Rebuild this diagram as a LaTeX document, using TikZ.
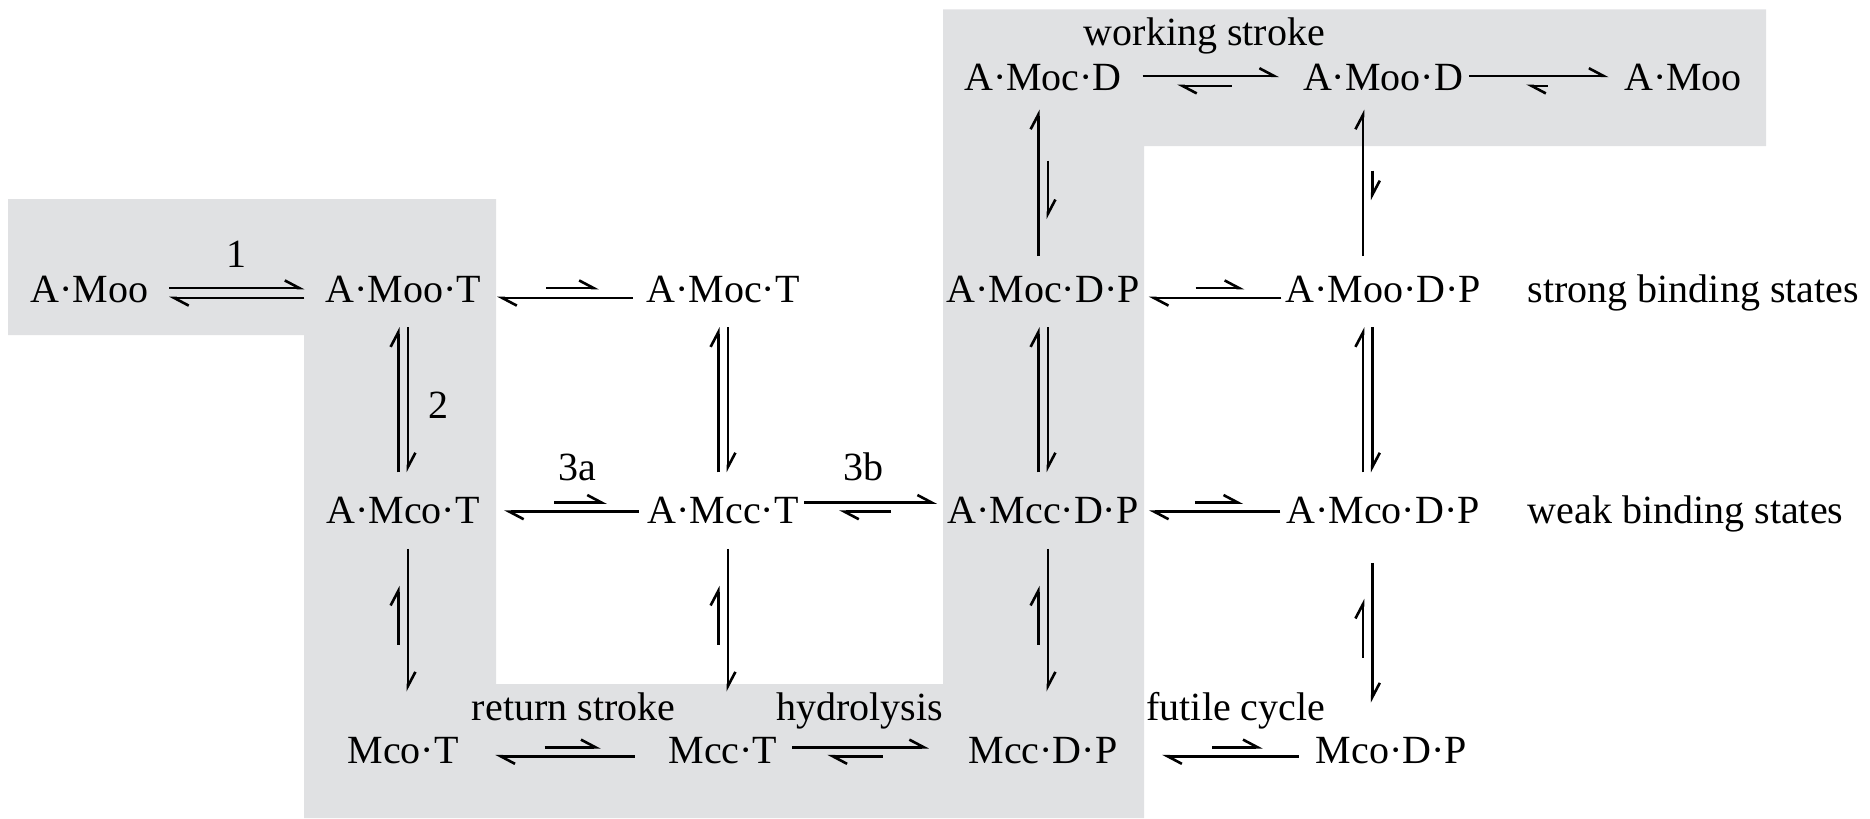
\documentclass[tikz,border=0pt]{standalone}
\usepackage{fontspec}
\setmainfont{Liberation Serif}
\usetikzlibrary{arrows.meta, positioning}
\definecolor{panel}{RGB}{224,225,227}

\begin{document}
\begin{tikzpicture}[
  x=1pt, y=1pt,
  state/.style={inner xsep=5pt, inner ysep=6pt},
  note/.style={inner sep=0pt, text depth=0pt},
  harp/.style={-{Straight Barb[left, length=3.6pt, width=3.8pt]}, line width=0.65pt},
  on grid
]

\useasboundingbox (0,0) rectangle (467.5,-204.5);

% =========================
% Shaded pathway
% =========================
\fill[panel] (2,-49.75) -- (124,-49.75) -- (124,-171) -- (235.75,-171)
  -- (235.75,-2.33) -- (441.5,-2.33) -- (441.5,-36.5) -- (286,-36.5)
  -- (286,-204.5) -- (76,-204.5) -- (76,-83.75) -- (2,-83.75) -- cycle;

% =========================
% States
% =========================
\node[state] (amoot) at (100.75,-72.25) {A·Moo·T};
\node[state, left=78.4pt of amoot] (amoo) {A·Moo};
\node[state, right=80pt of amoot] (amoct) {A·Moc·T};
\node[state, right=80pt of amoct] (amocdp) {A·Moc·D·P};
\node[state, right=85pt of amocdp] (amoodp) {A·Moo·D·P};

\node[state, above=52.9pt of amocdp] (amocd) {A·Moc·D};
\node[state, right=85pt of amocd] (amood) {A·Moo·D};
\node[state, right=75pt of amood] (amoor) {A·Moo};

\node[state, below=55.4pt of amoot] (amcot) {A·Mco·T};
\node[state, right=80pt of amcot] (amcct) {A·Mcc·T};
\node[state, right=80pt of amcct] (amccdp) {A·Mcc·D·P};
\node[state, right=85pt of amccdp] (amcodp) {A·Mco·D·P};

\node[state, below=59.9pt of amcot] (mcot) {Mco·T};
\node[state, right=80pt of mcot] (mcct) {Mcc·T};
\node[state, right=80pt of mcct] (mccdp) {Mcc·D·P};
\node[state, right=87.1pt of mccdp] (mcodp) {Mco·D·P};

\node[note, anchor=base west] (strong) at ([xshift=36pt]amoodp.base) {strong binding states};
\node[note, anchor=base west] (weak) at ([xshift=36pt]amcodp.base) {weak binding states};

% =========================
% Horizontal steps
% =========================
% top row
\draw[harp, shorten >=0.8pt] ([yshift=0.4pt]amocd.east) -- ([yshift=0.4pt]amood.west)
  node[note, midway, above=7.3pt, xshift=-2pt] {working stroke};
\draw[harp, shorten <=12.6pt, shorten >=8.6pt] ([yshift=-2.1pt]amood.west) -- ([yshift=-2.1pt]amocd.east);
\draw[harp, shorten <=-3.7pt, shorten >=-1.3pt] ([yshift=0.4pt]amood.east) -- ([yshift=0.4pt]amoor.west);
\draw[harp, shorten <=13.95pt, shorten >=10.6pt] ([yshift=-2.1pt]amoor.west) -- ([yshift=-2.1pt]amood.east);

% strong binding row
\draw[harp] ([yshift=0.25pt]amoo.east) -- ([yshift=0.25pt]amoot.west)
  node[note, midway, above=4.9pt] {1};
\draw[harp] ([yshift=-2.25pt]amoot.west) -- ([yshift=-2.25pt]amoo.east);
\draw[harp, shorten <=-1.8pt, shorten >=-1.1pt] ([yshift=-2.25pt]amoct.west) -- ([yshift=-2.25pt]amoot.east);
\draw[harp, shorten <=11.15pt, shorten >=6.7pt] ([yshift=0.25pt]amoot.east) -- ([yshift=0.25pt]amoct.west);
\draw[harp, shorten <=-4.2pt, shorten >=-2.9pt] ([yshift=-2.25pt]amoodp.west) -- ([yshift=-2.25pt]amocdp.east);
\draw[harp, shorten <=8.8pt, shorten >=5.05pt] ([yshift=0.25pt]amocdp.east) -- ([yshift=0.25pt]amoodp.west);

% weak binding row
\draw[harp, shorten <=-3.05pt, shorten >=0.9pt] ([yshift=-0.25pt]amcct.west) -- ([yshift=-0.25pt]amcot.east)
  node[note, midway, above=7.5pt, xshift=3.5pt] {3a};
\draw[harp, shorten <=13.4pt, shorten >=4.95pt] ([yshift=2pt]amcot.east) -- ([yshift=2pt]amcct.west);
\draw[harp, shorten <=-3.8pt, shorten >=-2.6pt] ([yshift=2pt]amcct.east) -- ([yshift=2pt]amccdp.west)
  node[note, midway, above=5.25pt, xshift=-2.5pt] {3b};
\draw[harp, shorten <=8.9pt, shorten >=4.95pt] ([yshift=-0.25pt]amccdp.west) -- ([yshift=-0.25pt]amcct.east);
\draw[harp, shorten <=-3.7pt, shorten >=-2.6pt] ([yshift=-0.25pt]amcodp.west) -- ([yshift=-0.25pt]amccdp.east);
\draw[harp, shorten <=8.9pt, shorten >=5.6pt] ([yshift=2pt]amccdp.east) -- ([yshift=2pt]amcodp.west);

% detached row
\draw[harp, shorten <=3.3pt, shorten >=4pt] ([yshift=-1.5pt]mcct.west) -- ([yshift=-1.5pt]mcot.east)
  node[note, midway, above=8.5pt, xshift=2.5pt] {return stroke};
\draw[harp, shorten <=16.3pt, shorten >=11.8pt] ([yshift=0.75pt]mcot.east) -- ([yshift=0.75pt]mcct.west);
\draw[harp, shorten <=-1.5pt, shorten >=4.7pt] ([yshift=0.75pt]mcct.east) -- ([yshift=0.75pt]mccdp.west)
  node[note, midway, above=6.25pt, xshift=-3.35pt] {hydrolysis};
\draw[harp, shorten <=16.2pt, shorten >=7.3pt] ([yshift=-1.5pt]mccdp.west) -- ([yshift=-1.5pt]mcct.east);
\draw[harp, shorten <=-0.9pt, shorten >=6pt] ([yshift=-1.5pt]mcodp.west) -- ([yshift=-1.5pt]mccdp.east)
  node[note, midway, above=8.5pt, xshift=4.8pt] {futile cycle};
\draw[harp, shorten <=18.5pt, shorten >=8.1pt] ([yshift=0.75pt]mccdp.east) -- ([yshift=0.75pt]mcodp.west);

% =========================
% Vertical steps
% =========================
% top row <-> strong binding
\draw[harp, shorten <=-1.35pt, shorten >=-1.5pt] ([xshift=-1.2pt]amocdp.north) -- ([xshift=-1.2pt]amocd.south);
\draw[harp, shorten <=11.25pt, shorten >=7.9pt] ([xshift=1.2pt]amocd.south) -- ([xshift=1.2pt]amocdp.north);
\draw[harp, shorten <=-1.35pt, shorten >=-1.5pt] ([xshift=-5pt]amoodp.north) -- ([xshift=-5pt]amood.south);
\draw[harp, shorten <=13.75pt, shorten >=12.65pt] ([xshift=-2.7pt]amood.south) -- ([xshift=-2.7pt]amoodp.north);

% strong <-> weak binding
\draw[harp] ([xshift=-1.2pt]amcot.north) -- ([xshift=-1.2pt]amoot.south);
\draw[harp] ([xshift=1.2pt]amoot.south) -- ([xshift=1.2pt]amcot.north)
  node[note, midway, right=4.8pt, yshift=-1.3pt] {2};
\draw[harp] ([xshift=-1.2pt]amcct.north) -- ([xshift=-1.2pt]amoct.south);
\draw[harp] ([xshift=1.2pt]amoct.south) -- ([xshift=1.2pt]amcct.north);
\draw[harp] ([xshift=-1.2pt]amccdp.north) -- ([xshift=-1.2pt]amocdp.south);
\draw[harp] ([xshift=1.2pt]amocdp.south) -- ([xshift=1.2pt]amccdp.north);
\draw[harp] ([xshift=-5pt]amcodp.north) -- ([xshift=-5pt]amoodp.south);
\draw[harp] ([xshift=-2.7pt]amoodp.south) -- ([xshift=-2.7pt]amcodp.north);

% weak binding <-> detached
\draw[harp, shorten >=5.15pt] ([xshift=1.2pt]amcot.south) -- ([xshift=1.2pt]mcot.north);
\draw[harp, shorten <=16.9pt, shorten >=9.25pt] ([xshift=-1.2pt]mcot.north) -- ([xshift=-1.2pt]amcot.south);
\draw[harp, shorten >=5.15pt] ([xshift=1.2pt]amcct.south) -- ([xshift=1.2pt]mcct.north);
\draw[harp, shorten <=16.9pt, shorten >=9.25pt] ([xshift=-1.2pt]mcct.north) -- ([xshift=-1.2pt]amcct.south);
\draw[harp, shorten >=5.15pt] ([xshift=1.2pt]amccdp.south) -- ([xshift=1.2pt]mccdp.north);
\draw[harp, shorten <=16.9pt, shorten >=9.25pt] ([xshift=-1.2pt]mccdp.north) -- ([xshift=-1.2pt]amccdp.south);
\draw[harp, shorten <=3.5pt, shorten >=2.4pt] ([xshift=-2.7pt]amcodp.south) -- ([xshift=-2.7pt]amcodp.south |- mcodp.north);
\draw[harp, shorten <=13.65pt, shorten >=12.5pt] ([xshift=-5pt]amcodp.south |- mcodp.north) -- ([xshift=-5pt]amcodp.south);

\end{tikzpicture}
\end{document}
